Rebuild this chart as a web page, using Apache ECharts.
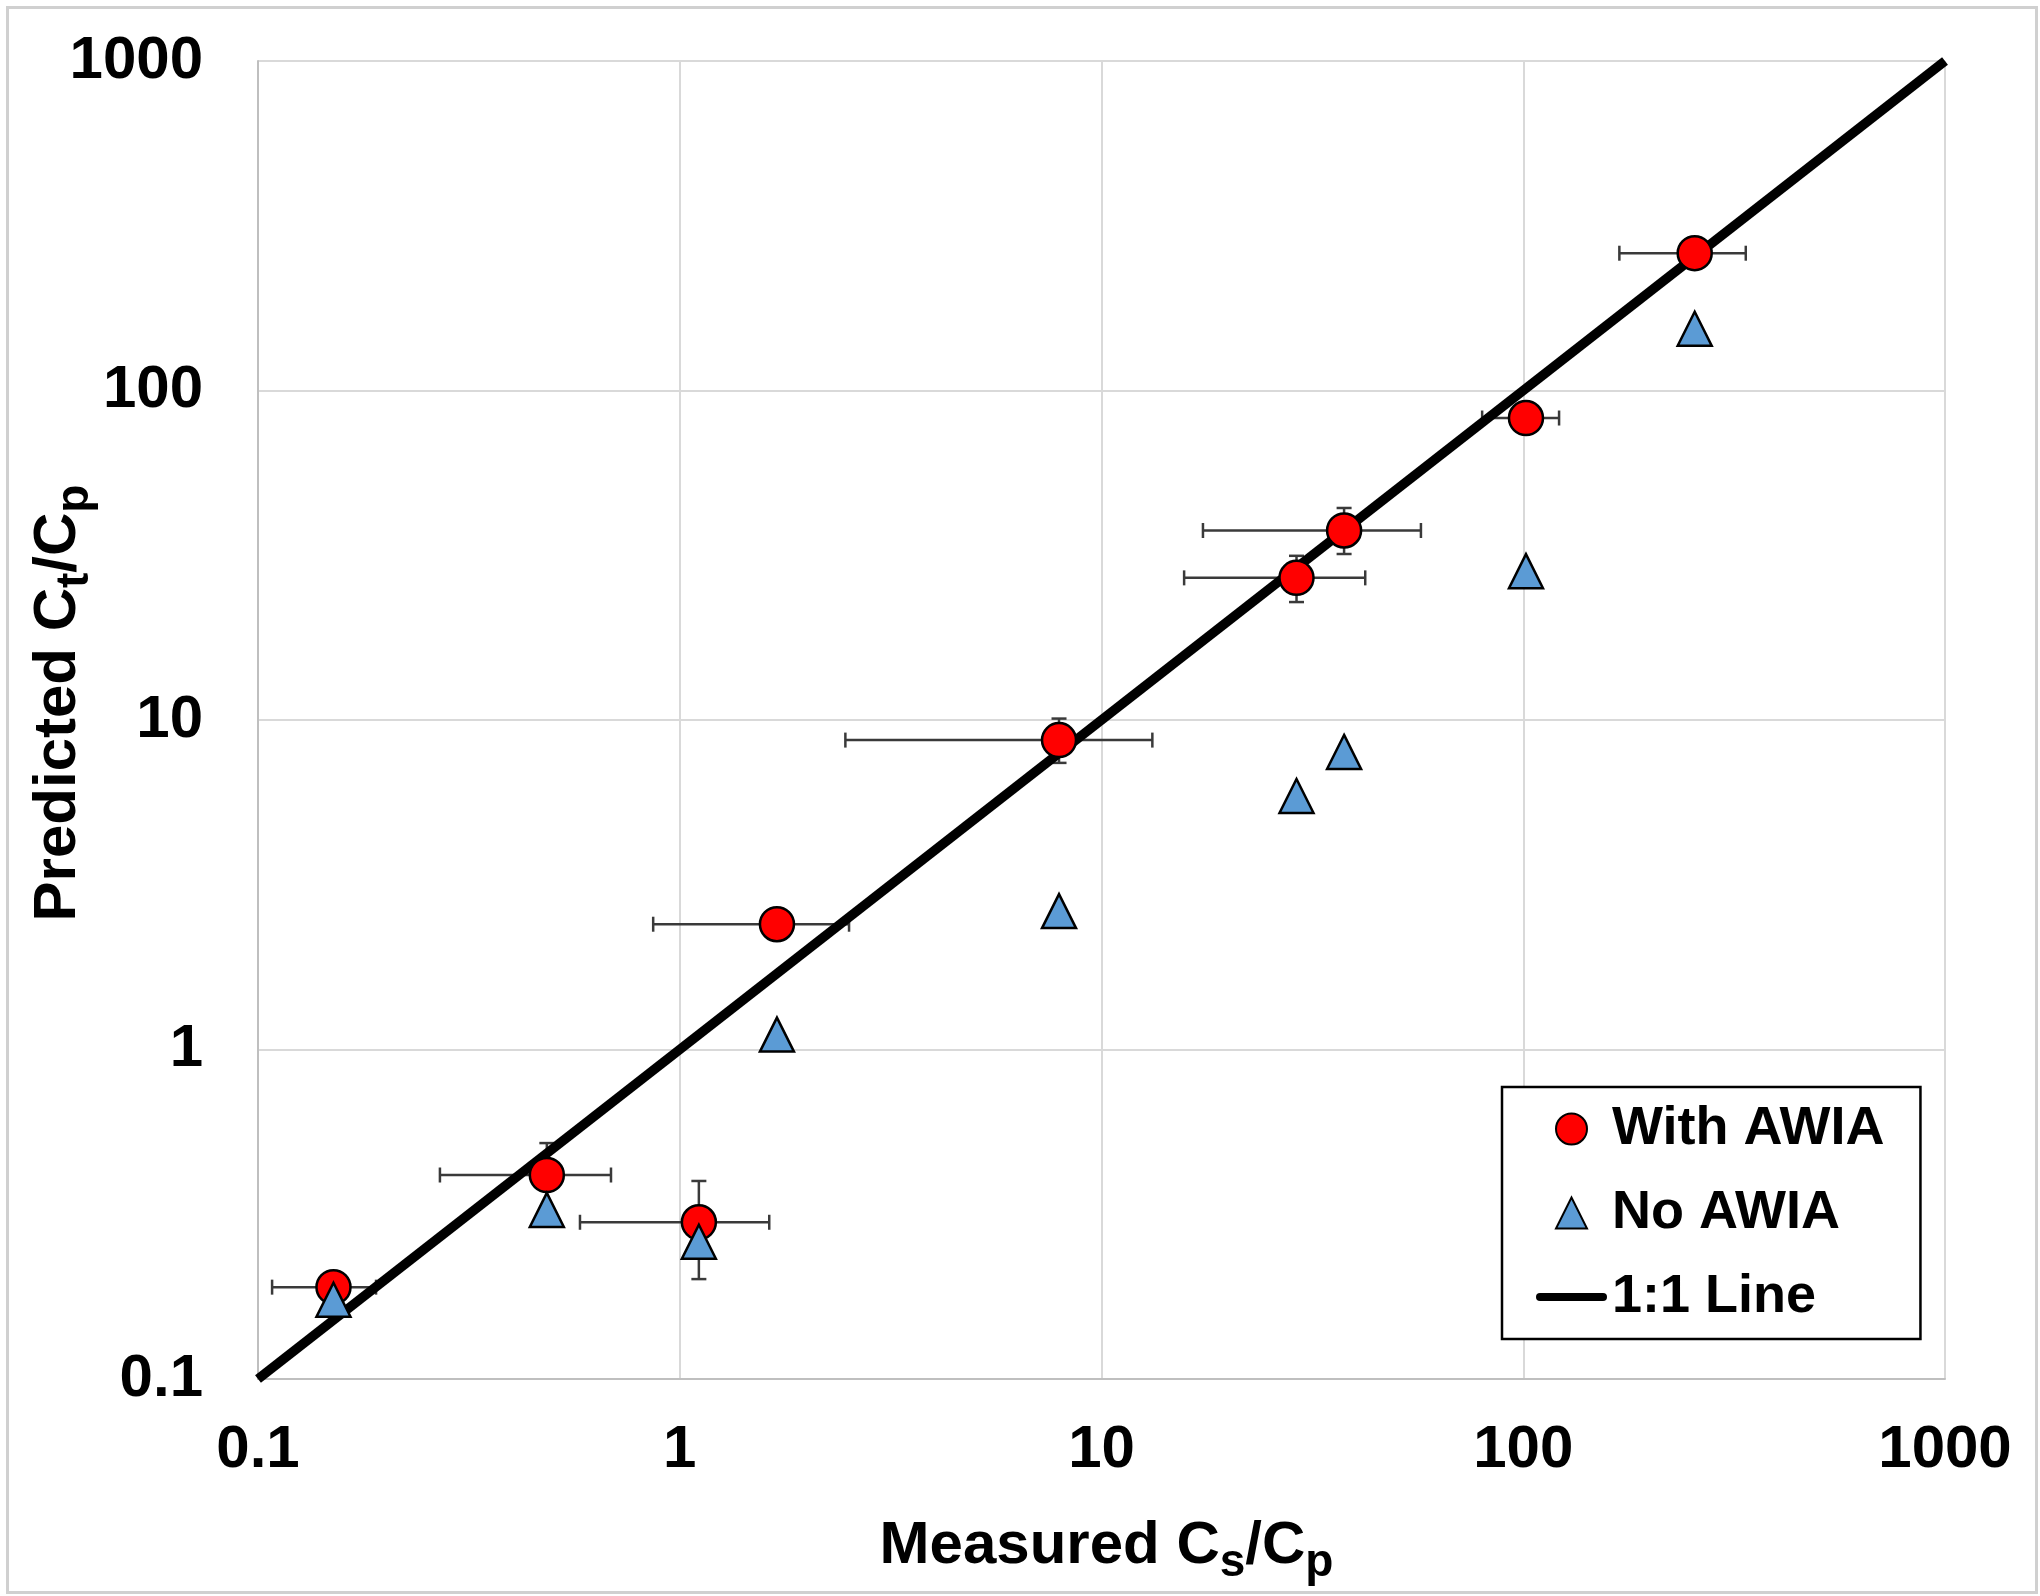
<!DOCTYPE html>
<html>
<head>
<meta charset="utf-8">
<script src="https://cdn.jsdelivr.net/npm/echarts@6/dist/echarts.min.js"></script>
<style>
html,body{margin:0;padding:0;background:#fff;}
#c{width:2040px;height:1596px;}
</style>
</head>
<body>
<div id="c"></div>
<script>
// ---- data ----
const measured   = [0.151, 0.484, 1.11, 1.70, 7.93, 29.0, 37.6, 101.5, 255];
const withAWIA   = [0.190, 0.416, 0.299, 2.40, 8.69, 27.0, 37.6, 82.5, 261];
const noAWIA     = [0.174, 0.326, 0.261, 1.11, 2.63, 5.88, 8.0, 28.3, 154];
const xErrLow    = [0.108, 0.270, 0.580, 0.865, 2.47, 15.7, 17.4, 79.9, 169];
const xErrHigh   = [0.1905, 0.687, 1.63, 2.52, 13.2, 42.2, 57.2, 121.6, 337];
const yErrLow    = [null, 0.33, 0.201, null, 7.41, 22.8, 31.9, null, null];
const yErrHigh   = [null, 0.520, 0.399, null, 10.1, 31.5, 44.0, null, null];
const oneToOne   = [[0.1, 0.1], [1000, 1000]];
const xTickLabels = ['0.1', '1', '10', '100', '1000'];
const yTickLabels = ['0.1', '1', '10', '100', '1000'];
const seriesNames = ['With AWIA', 'No AWIA', '1:1 Line'];

const FONT = "'Liberation Sans', Arial, Helvetica, sans-serif";
const chart = echarts.init(document.getElementById('c'), null, {renderer: 'canvas'});

function tickFmt(labels) {
  return function (v) {
    const i = Math.round(Math.log10(v)) + 1;
    return labels[i] !== undefined ? labels[i] : '';
  };
}

const errData = measured.map((x, i) => [x, withAWIA[i]]);

function renderErr(params, api) {
  const i = params.dataIndex;
  const x = measured[i], y = withAWIA[i];
  const cap = 7.5;
  const st = {stroke: '#3a3a3a', lineWidth: 2.5};
  const children = [];
  const pl = api.coord([xErrLow[i], y]);
  const ph = api.coord([xErrHigh[i], y]);
  children.push({type: 'line', shape: {x1: pl[0], y1: pl[1], x2: ph[0], y2: ph[1]}, style: st});
  children.push({type: 'line', shape: {x1: pl[0], y1: pl[1] - cap, x2: pl[0], y2: pl[1] + cap}, style: st});
  children.push({type: 'line', shape: {x1: ph[0], y1: ph[1] - cap, x2: ph[0], y2: ph[1] + cap}, style: st});
  if (yErrLow[i] != null && yErrHigh[i] != null) {
    const ql = api.coord([x, yErrLow[i]]);
    const qh = api.coord([x, yErrHigh[i]]);
    children.push({type: 'line', shape: {x1: ql[0], y1: ql[1], x2: qh[0], y2: qh[1]}, style: st});
    children.push({type: 'line', shape: {x1: ql[0] - cap, y1: ql[1], x2: ql[0] + cap, y2: ql[1]}, style: st});
    children.push({type: 'line', shape: {x1: qh[0] - cap, y1: qh[1], x2: qh[0] + cap, y2: qh[1]}, style: st});
  }
  return {type: 'group', children: children};
}

const titleRich = {
  m: {fontSize: 60, fontWeight: 'bold', fontFamily: FONT, color: '#000', lineHeight: 70},
  s: {fontSize: 46, fontWeight: 'bold', fontFamily: FONT, color: '#000', lineHeight: 36, padding: [34, 0, 0, 0]}
};

const option = {
  backgroundColor: '#fff',
  animation: false,
  graphic: [{
    type: 'rect', left: 5, top: 5, z: -10,
    shape: {x: 0, y: 0, width: 2029, height: 1585},
    style: {fill: 'none', stroke: '#d0d0d0', lineWidth: 3}
  }],
  grid: {left: 258, right: 95, top: 61, bottom: 217, containLabel: false, outerBoundsMode: 'none'},
  legend: {
    data: [
      {name: seriesNames[0], icon: 'circle'},
      {name: seriesNames[1], icon: 'path://M15,0 L30,30 L0,30 Z'},
      {name: seriesNames[2], icon: 'path://M4,0 L67,0 A4,4 0 0 1 67,8 L4,8 A4,4 0 0 1 4,0 Z',
        itemStyle: {color: '#000', borderWidth: 0}}
    ],
    orient: 'vertical',
    left: 1502, top: 1087,
    padding: [12, 36, 12, 34],
    itemWidth: 71, itemHeight: 31, itemGap: 24,
    symbolKeepAspect: true,
    backgroundColor: '#fff',
    borderColor: '#000', borderWidth: 2.5,
    textStyle: {fontSize: 54, fontWeight: 'bold', fontFamily: FONT, color: '#000', lineHeight: 60},
    z: 20
  },
  xAxis: {
    type: 'log', logBase: 10, min: 0.1, max: 1000,
    name: '{m|Measured C}{s|s}{m|/C}{s|p}',
    nameLocation: 'middle', nameGap: 132, nameMoveOverlap: false,
    nameTextStyle: {rich: titleRich, padding: [0, 0, 0, 10]},
    axisLine: {show: true, lineStyle: {color: '#bfbfbf', width: 2}},
    axisTick: {show: false},
    minorTick: {show: false},
    splitLine: {show: true, lineStyle: {color: '#d9d9d9', width: 2}},
    axisLabel: {formatter: tickFmt(xTickLabels), margin: 41, fontSize: 60, fontWeight: 'bold',
      fontFamily: FONT, color: '#000', lineHeight: 60, showMinLabel: true, showMaxLabel: true}
  },
  yAxis: {
    type: 'log', logBase: 10, min: 0.1, max: 1000,
    name: '{m|Predicted C}{s|t}{m|/C}{s|p}',
    nameLocation: 'middle', nameGap: 165, nameMoveOverlap: false,
    nameTextStyle: {rich: titleRich, padding: [0, 0, 0, 34]},
    axisLine: {show: true, lineStyle: {color: '#bfbfbf', width: 2}},
    axisTick: {show: false},
    minorTick: {show: false},
    splitLine: {show: true, lineStyle: {color: '#d9d9d9', width: 2}},
    axisLabel: {formatter: tickFmt(yTickLabels), margin: 55, fontSize: 60, fontWeight: 'bold',
      fontFamily: FONT, color: '#000', showMinLabel: true, showMaxLabel: true}
  },
  series: [
    {
      type: 'custom', name: 'errors', z: 1, silent: true,
      renderItem: renderErr, data: errData, encode: {x: 0, y: 1}, clip: false
    },
    {
      type: 'scatter', name: seriesNames[0], z: 3,
      data: measured.map((x, i) => [x, withAWIA[i]]),
      symbol: 'circle', symbolSize: 34,
      itemStyle: {color: '#ff0000', borderColor: '#000', borderWidth: 2.5, opacity: 1}
    },
    {
      type: 'scatter', name: seriesNames[1], z: 4,
      data: measured.map((x, i) => [x, noAWIA[i]]),
      symbol: 'triangle', symbolSize: 34,
      itemStyle: {color: '#5b9bd5', borderColor: '#000', borderWidth: 2.5, opacity: 1}
    },
    {
      type: 'line', name: seriesNames[2], z: 2,
      data: oneToOne, symbol: 'none', showSymbol: false,
      lineStyle: {color: '#000', width: 9.5, cap: 'butt'},
      itemStyle: {color: '#000'}
    }
  ]
};
chart.setOption(option);
</script>
</body>
</html>
